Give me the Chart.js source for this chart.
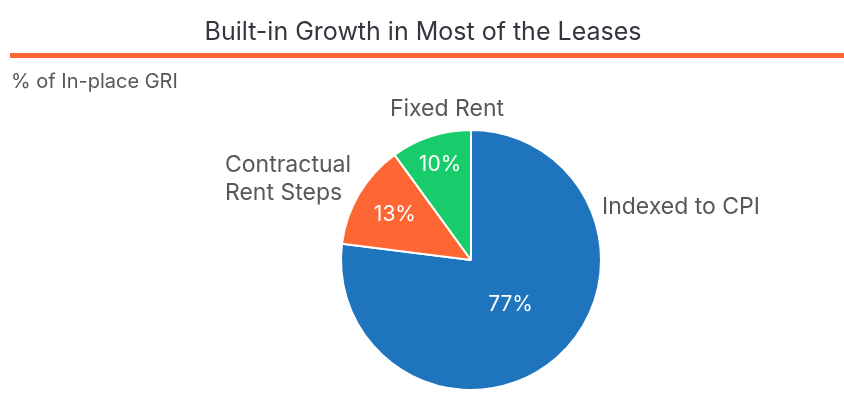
<!DOCTYPE html>
<html>
<head>
<meta charset="utf-8">
<script src="https://cdn.jsdelivr.net/npm/chart.js@4/dist/chart.umd.min.js"></script>
<style>
  html, body { margin: 0; padding: 0; background: #fff; }
  #wrap { width: 844px; height: 398px; position: relative; }
</style>
</head>
<body>
<div id="wrap"><canvas id="leases_pie"></canvas></div>
<script>
// data
var categories = ['Indexed to CPI', 'Contractual Rent Steps', 'Fixed Rent'];
var shares = [77, 13, 10];
var sliceColors = ['#1f75bd', '#fe6633', '#19cc6b'];

var titleText = 'Built-in Growth in Most of the Leases';
var subtitleText = '% of In-place GRI';

var FONT = 'Inter, "Noto Sans", sans-serif';

// where the outside names sit, relative to the pie centre
var nameSpots = [
    { lines: ['Indexed to CPI'], dx: 131, dy: -53, align: 'left' },
    { lines: ['Contractual', 'Rent Steps'], dx: -246, dy: -95, align: 'left' },
    { lines: ['Fixed Rent'], dx: -24, dy: -151, align: 'center' }
];
// how far out (fraction of radius) each % label goes
var pctDepth = [0.46, 0.68, 0.77];

var decorPlugin = {
    id: 'decor',
    afterDraw: function (chart) {
        var c = chart.ctx;
        c.save();
        // title + rule
        c.fillStyle = '#33363d';
        c.font = '400 25px ' + FONT;
        c.textAlign = 'center';
        c.textBaseline = 'alphabetic';
        c.fillText(titleText, 423, 40);
        c.fillStyle = '#fe6633';
        c.fillRect(10, 53, 834, 5);
        // subtitle
        c.fillStyle = '#555759';
        c.font = '400 20px ' + FONT;
        c.textAlign = 'left';
        c.fillText(subtitleText, 11, 88);

        var meta = chart.getDatasetMeta(0);
        var total = shares.reduce(function (a, b) { return a + b; }, 0);
        meta.data.forEach(function (arc, i) {
            var p = arc.getProps(['x', 'y', 'startAngle', 'endAngle', 'outerRadius'], true);
            var mid = (p.startAngle + p.endAngle) / 2;
            var r = p.outerRadius * pctDepth[i];
            c.fillStyle = '#ffffff';
            c.font = '400 21px ' + FONT;
            c.textAlign = 'center';
            c.textBaseline = 'middle';
            c.fillText(Math.round(shares[i] / total * 100) + '%', p.x + Math.cos(mid) * r, p.y + Math.sin(mid) * r);

            var spot = nameSpots[i];
            c.fillStyle = '#555759';
            c.font = '400 23px ' + FONT;
            c.textAlign = spot.align;
            spot.lines.forEach(function (ln, k) {
                c.fillText(ln, p.x + spot.dx, p.y + spot.dy + k * 28);
            });
        });
        c.restore();
    }
};

var ctx = document.getElementById('leases_pie');
var pieChart = new Chart(ctx, {
    type: 'pie',
    data: {
        labels: categories,
        datasets: [{
            data: shares,
            backgroundColor: sliceColors,
            borderColor: '#ffffff',
            borderWidth: 2
        }]
    },
    options: {
        responsive: true,
        maintainAspectRatio: false,
        animation: false,
        layout: { padding: { top: 129, bottom: 7, left: 98, right: 0 } },
        plugins: {
            legend: { display: false },
            tooltip: { enabled: false },
            title: { display: false }
        }
    },
    plugins: [decorPlugin]
});
</script>
</body>
</html>
